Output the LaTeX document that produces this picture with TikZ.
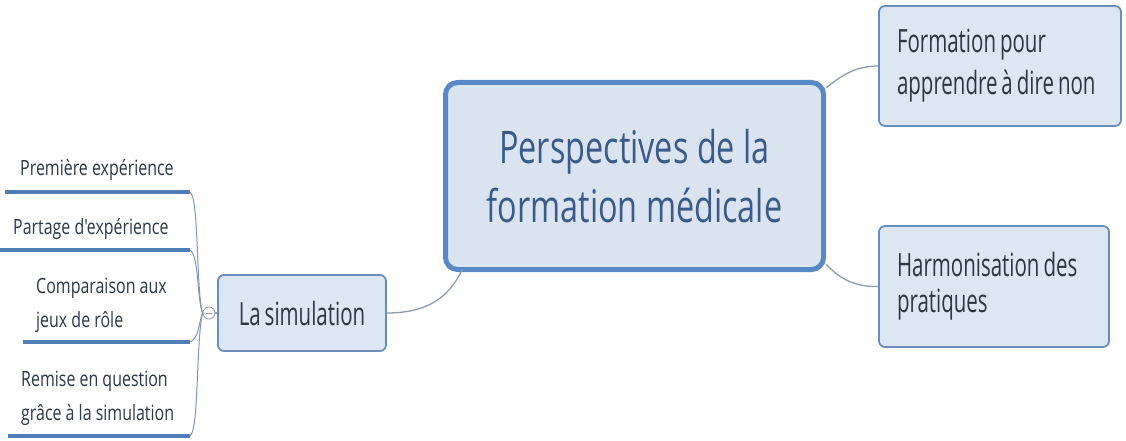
\documentclass[tikz,border=0pt]{standalone}
\usepackage{fontspec}
\setmainfont{Open Sans}
\newfontfamily\topicfont[FakeStretch=0.64,WordSpace=0.75]{Open Sans}
\newfontfamily\centralfont[FakeStretch=0.72]{Open Sans}
\newfontfamily\leaffont[FakeStretch=0.76]{Open Sans}
\usetikzlibrary{calc}
\definecolor{cfill}{HTML}{DAE4F1}
\definecolor{cborder}{HTML}{5A88C6}
\definecolor{nfill}{HTML}{DDE7F3}
\definecolor{nborder}{HTML}{6A8DBA}
\definecolor{ctext}{HTML}{3A5A88}
\definecolor{ntext}{HTML}{2C3744}
\definecolor{conn}{HTML}{8E9BA8}
\definecolor{uline}{HTML}{4F7DB5}
\definecolor{lconn}{HTML}{7F95B5}
\newcommand{\lline}[2]{\makebox[#1][l]{#2}}
\tikzset{
  central/.style={draw=cborder, fill=cfill, line width=5pt, rounded corners=12pt,
    minimum width=378pt, minimum height=187pt, inner sep=0pt, align=center,
    text=ctext, font=\centralfont\fontsize{45}{59}\selectfont},
  topic/.style={draw=nborder, fill=nfill, line width=1.8pt, rounded corners=6pt,
    inner sep=0pt, align=left, text=ntext},
  leaf/.style={inner sep=0pt, align=left, text=ntext, font=\leaffont\fontsize{21}{34}\selectfont},
  link/.style={draw=conn, line width=1.3pt},
  llink/.style={draw=lconn, line width=1pt},
  under/.style={draw=uline, line width=4pt},
  toggle/.style={draw=conn, fill=white, circle, minimum size=12pt, inner sep=0pt, line width=0.8pt}
}
\begin{document}
\begin{tikzpicture}[x=1pt,y=-1pt]
\useasboundingbox (0,0) rectangle (1126,441);
% central
\node[central] (c) at (634.5,176) {Perspectives de la\\formation médicale};
% right topics
\node[topic, minimum width=242pt, minimum height=120pt,
  font=\topicfont\fontsize{32}{42}\selectfont] (f) at (1000,66)
  {\lline{206pt}{Formation pour}\\\lline{206pt}{apprendre à dire non}};
\node[topic, minimum width=230pt, minimum height=121pt,
  font=\topicfont\fontsize{32}{36}\selectfont] (h) at (994,286.5)
  {\lline{194pt}{Harmonisation des}\\\lline{194pt}{pratiques}};
% la simulation
\node[topic, minimum width=168pt, minimum height=76pt, align=center,
  font=\topicfont\fontsize{32}{38}\selectfont] (s) at (302,313) {La simulation};
\node[toggle] (t) at (209,313) {};
\draw[draw=conn, line width=0.8pt] ($(t.center)+(-3,0)$) coordinate (tm1) -- ($(t.center)+(3,0)$) coordinate (tm2);
\draw[link] (t.east) -- (s.west);
% connectors from central
\coordinate (cbl) at ($(c.south west)+(19,-2)$);
\coordinate (ctr) at ($(c.north east)+(0,8)$);
\coordinate (cbr) at ($(c.south east)+(0,-8)$);
\draw[link] (s.east) .. controls (430,313) and (450,295) .. (cbl);
\draw[link] (ctr) .. controls (845,72) and (860,66) .. (f.west);
\draw[link] (cbr) .. controls (842,282) and (860,287) .. (h.west);
% leaves
\node[leaf, anchor=base west] (l1) at (20,175) {Première expérience};
\node[leaf, anchor=base west] (l2) at (13,234) {Partage d'expérience};
\node[leaf, anchor=base west] (l3) at (36,327) {Comparaison aux\\jeux de rôle};
\node[leaf, anchor=base west] (l4) at (21,420) {Remise en question\\grâce à la simulation};
% underlines
\coordinate (u1a) at (5,192);   \coordinate (u1b) at (190,192);
\coordinate (u2a) at (0,250);   \coordinate (u2b) at (190,250);
\coordinate (u3a) at (23,342);  \coordinate (u3b) at (190,342);
\coordinate (u4a) at (8,436);   \coordinate (u4b) at (190,436);
\draw[under] (u1a) -- (u1b);
\draw[under] (u2a) -- (u2b);
\draw[under] (u3a) -- (u3b);
\draw[under] (u4a) -- (u4b);
% left connectors
\draw[llink] (t.west) .. controls (196,290) and (199,197) .. (u1b);
\draw[llink] (t.west) .. controls (197,300) and (199,255) .. (u2b);
\draw[llink] (t.west) .. controls (198,326) and (199,338) .. (u3b);
\draw[llink] (t.west) .. controls (196,340) and (199,431) .. (u4b);
\end{tikzpicture}
\end{document}
